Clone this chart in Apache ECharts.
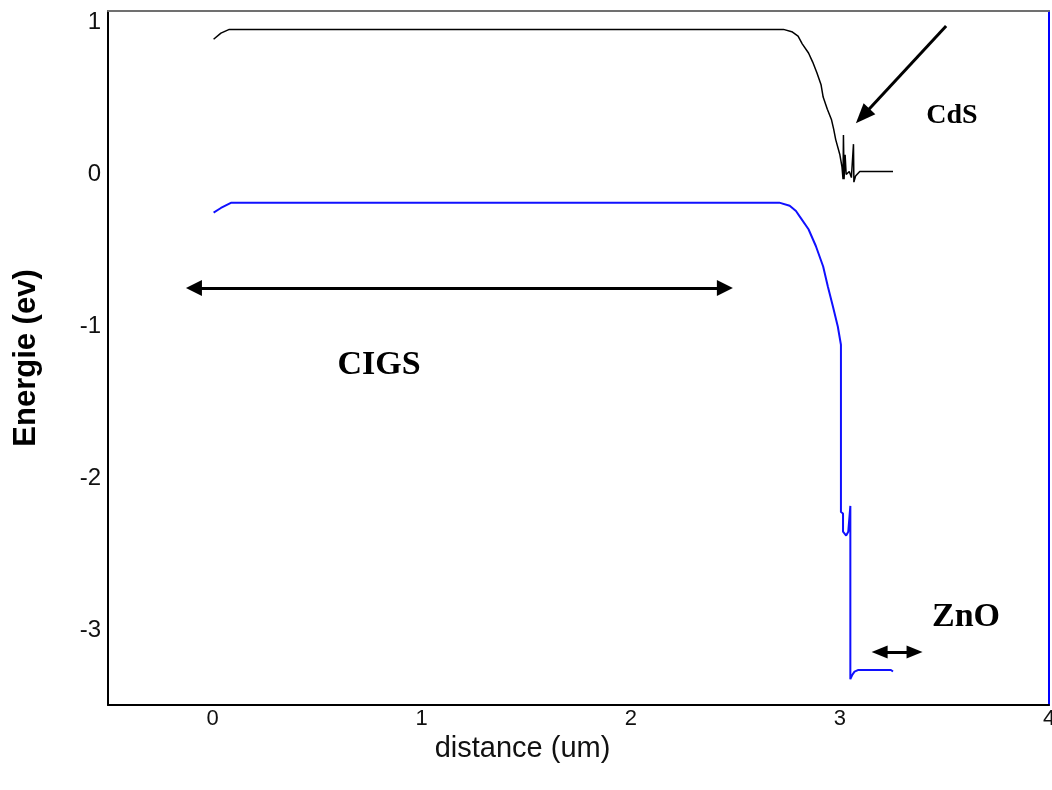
<!DOCTYPE html>
<html>
<head>
<meta charset="utf-8">
<script src="https://cdn.jsdelivr.net/npm/echarts@6/dist/echarts.min.js"></script>
<style>html,body{margin:0;padding:0;background:#fff}#c{width:1052px;height:790px}</style>
</head>
<body>
<div id="c"></div>
<script>
// Conduction band (black)
var cbX = [0.005,0.04,0.08,2.73,2.77,2.80,2.82,2.85,2.87,2.89,2.91,2.92,2.94,2.96,2.97,2.98,3.00,3.01,3.015,3.017,3.02,3.025,3.03,3.045,3.055,3.065,3.067,3.075,3.095,3.254];
var cbY = [0.89,0.93,0.955,0.955,0.94,0.91,0.86,0.80,0.74,0.67,0.59,0.51,0.43,0.36,0.30,0.23,0.13,0.05,-0.03,0.26,-0.03,0.13,0.0,0.02,-0.02,0.20,-0.05,-0.01,0.02,0.02];
// Valence band (blue)
var vbX = [0.005,0.04,0.09,2.71,2.76,2.79,2.81,2.85,2.885,2.92,2.943,2.967,2.99,3.005,3.005,3.015,3.015,3.03,3.04,3.05,3.05,3.06,3.07,3.086,3.244,3.254];
var vbY = [-0.25,-0.22,-0.185,-0.185,-0.205,-0.24,-0.28,-0.36,-0.47,-0.605,-0.74,-0.87,-1.0,-1.12,-2.22,-2.23,-2.35,-2.375,-2.35,-2.18,-3.32,-3.29,-3.27,-3.26,-3.26,-3.27];
// Tick labels
var xTicks = [0,1,2,3,4];
var yTicks = [-3,-2,-1,0,1];
// Annotation arrows (data coordinates)
var cigsArrow = [[-0.089,-0.747],[2.45,-0.747]];
var cdsArrow = [[3.508,0.977],[3.109,0.385]];
var znoArrow = [[3.19,-3.141],[3.357,-3.141]];

function pairs(xs, ys){ return xs.map(function(x,i){ return [x, ys[i]]; }); }

var chart = echarts.init(document.getElementById('c'));
var hidden = {show:false};
chart.setOption({
  animation:false,
  backgroundColor:'#fff',
  grid:{left:108,right:3,top:11,bottom:85,outerBoundsMode:'none',containLabel:false},
  xAxis:[{
    type:'value', min:-0.5, max:4, position:'bottom',
    name:'distance (um)', nameLocation:'middle', nameGap:9,
    nameTextStyle:{fontFamily:'Liberation Sans', fontSize:29, color:'#111', padding:[0,112,0,0]},
    axisLine:{show:true, onZero:false, lineStyle:{color:'#000', width:2}},
    axisTick:hidden, splitLine:hidden,
    axisLabel:{customValues:xTicks, fontFamily:'Liberation Sans', fontSize:22, color:'#111', margin:3}
  },{
    type:'value', min:-0.5, max:4, position:'top',
    axisLine:{show:true, onZero:false, lineStyle:{color:'#707070', width:2}},
    axisTick:hidden, splitLine:hidden, axisLabel:hidden
  }],
  yAxis:[{
    type:'value', min:-3.49, max:1.076, position:'left',
    name:'Energie (ev)', nameLocation:'middle', nameGap:66,
    nameTextStyle:{fontFamily:'Liberation Sans', fontSize:31, fontWeight:'bold', color:'#000'},
    axisLine:{show:true, onZero:false, lineStyle:{color:'#000', width:2}},
    axisTick:hidden, splitLine:hidden,
    axisLabel:{customValues:yTicks, fontFamily:'Liberation Sans', fontSize:24, color:'#111', margin:7}
  },{
    type:'value', min:-3.49, max:1.076, position:'right',
    axisLine:{show:true, onZero:false, lineStyle:{color:'#0000ff', width:2}},
    axisTick:hidden, splitLine:hidden, axisLabel:hidden
  }],
  series:[{
    type:'line', name:'Ec', data:pairs(cbX,cbY), showSymbol:false, symbol:'none',
    lineStyle:{color:'#000', width:1.5}, z:3,
    markLine:{
      silent:true, animation:false,
      label:{show:false},
      lineStyle:{color:'#000', width:3, type:'solid'},
      data:[
        [{coord:cigsArrow[0], symbol:'triangle', symbolSize:[16,16]},{coord:cigsArrow[1], symbol:'triangle', symbolSize:[16,16]}],
        [{coord:cdsArrow[0], symbol:'none'},{coord:cdsArrow[1], symbol:'triangle', symbolSize:[16,20]}],
        [{coord:znoArrow[0], symbol:'triangle', symbolSize:[13,16]},{coord:znoArrow[1], symbol:'triangle', symbolSize:[13,16]}]
      ]
    }
  },{
    type:'line', name:'Ev', data:pairs(vbX,vbY), showSymbol:false, symbol:'none',
    lineStyle:{color:'#1010ff', width:2}, z:3
  }],
  graphic:[
    {type:'text', x:379, y:365, style:{text:'CIGS', fontFamily:'Liberation Serif', fontWeight:'bold', fontSize:34, fill:'#000', align:'center', verticalAlign:'middle'}},
    {type:'text', x:952, y:116, style:{text:'CdS', fontFamily:'Liberation Serif', fontWeight:'bold', fontSize:28, fill:'#000', align:'center', verticalAlign:'middle'}},
    {type:'text', x:966, y:617, style:{text:'ZnO', fontFamily:'Liberation Serif', fontWeight:'bold', fontSize:34, fill:'#000', align:'center', verticalAlign:'middle'}}
  ]
});
</script>
</body>
</html>
